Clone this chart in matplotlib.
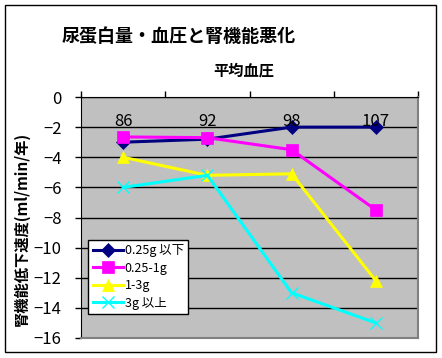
import matplotlib
matplotlib.use("Agg")
import matplotlib.pyplot as plt
from matplotlib.patches import Rectangle

plt.rcParams['font.family'] = ['Noto Sans CJK JP', 'DejaVu Sans']
plt.rcParams['axes.unicode_minus'] = True

categories = ['86', '92', '98', '107']
series_names = ['0.25g 以下', '0.25-1g', '1-3g', '3g 以上']
s_low = [-3.0, -2.8, -2.0, -2.0]
s_mid = [-2.65, -2.7, -3.5, -7.5]
s_high = [-4.0, -5.2, -5.1, -12.2]
s_top = [-6.0, -5.2, -13.0, -15.0]
yticks = [0, -2, -4, -6, -8, -10, -12, -14, -16]

W, H = 442, 358
fig = plt.figure(figsize=(W / 100, H / 100), dpi=100)
fig.patch.set_facecolor('white')
fig.add_artist(Rectangle((5 / W, 1 - 352 / H), 431 / W, 347 / H, transform=fig.transFigure,
                         fill=False, edgecolor='black', linewidth=1))

ax = fig.add_axes([81 / W, 1 - 338 / H, 337 / W, 241 / H])
ax.set_facecolor('#C0C0C0')

x = list(range(1, len(categories) + 1))
styles = [
    (s_low, '#000080', 'D', 7.5),
    (s_mid, '#FF00FF', 's', 8.5),
    (s_high, '#FFFF00', '^', 9),
    (s_top, '#00FFFF', 'x', 8),
]
for (vals, col, mk, ms), name in zip(styles, series_names):
    ax.plot(x, vals, color=col, marker=mk, markersize=ms, linewidth=2.2,
            markeredgecolor=col, markerfacecolor=col,
            markeredgewidth=1.0 if mk == 'x' else 0.5,
            label=name, zorder=3)

ax.set_xlim(0.5, len(categories) + 0.5)
ax.set_ylim(-16, 0)
ax.set_yticks(yticks)
ax.set_yticklabels([("\u2212" + str(-v)) if v < 0 else str(v) for v in yticks], fontsize=12)
ax.yaxis.grid(True, color='black', linewidth=1)
ax.set_axisbelow(True)
ax.tick_params(axis='y', direction='out', length=4, width=1, pad=10, colors='black')

ax.xaxis.set_ticks_position('top')
ax.set_xticks([i + 0.5 for i in range(0, len(categories) + 1)])
ax.set_xticklabels([])
ax.tick_params(axis='x', direction='out', length=4, width=1)
for xi, lab in zip(x, categories):
    ax.text(xi, -1.6, lab, ha='center', va='center', fontsize=12, zorder=4)

for sp in ['left', 'top']:
    ax.spines[sp].set_color('black')
for sp in ['right', 'bottom']:
    ax.spines[sp].set_color('#808080')
    ax.spines[sp].set_linewidth(1.5)

leg = ax.legend(loc='lower left', bbox_to_anchor=(0.022, 0.1), fontsize=9, frameon=True,
                fancybox=False, edgecolor='black', framealpha=1, borderpad=0.35,
                labelspacing=0.36, handlelength=2.4, handletextpad=0.15, borderaxespad=0)
leg.get_frame().set_linewidth(1)

fig.text(62 / W, 1 - 36 / H, '尿蛋白量・血圧と腎機能悪化', fontsize=13, fontweight='bold',
         ha='left', va='center')
fig.text(244 / W, 1 - 71 / H, '平均血圧', fontsize=11, fontweight='bold', ha='center', va='center')
fig.text(22 / W, 1 - 229 / H, '腎機能低下速度(ml/min/年)', fontsize=11, fontweight='bold',
         rotation=90, ha='center', va='center')

fig.savefig('out.png', dpi=100)
